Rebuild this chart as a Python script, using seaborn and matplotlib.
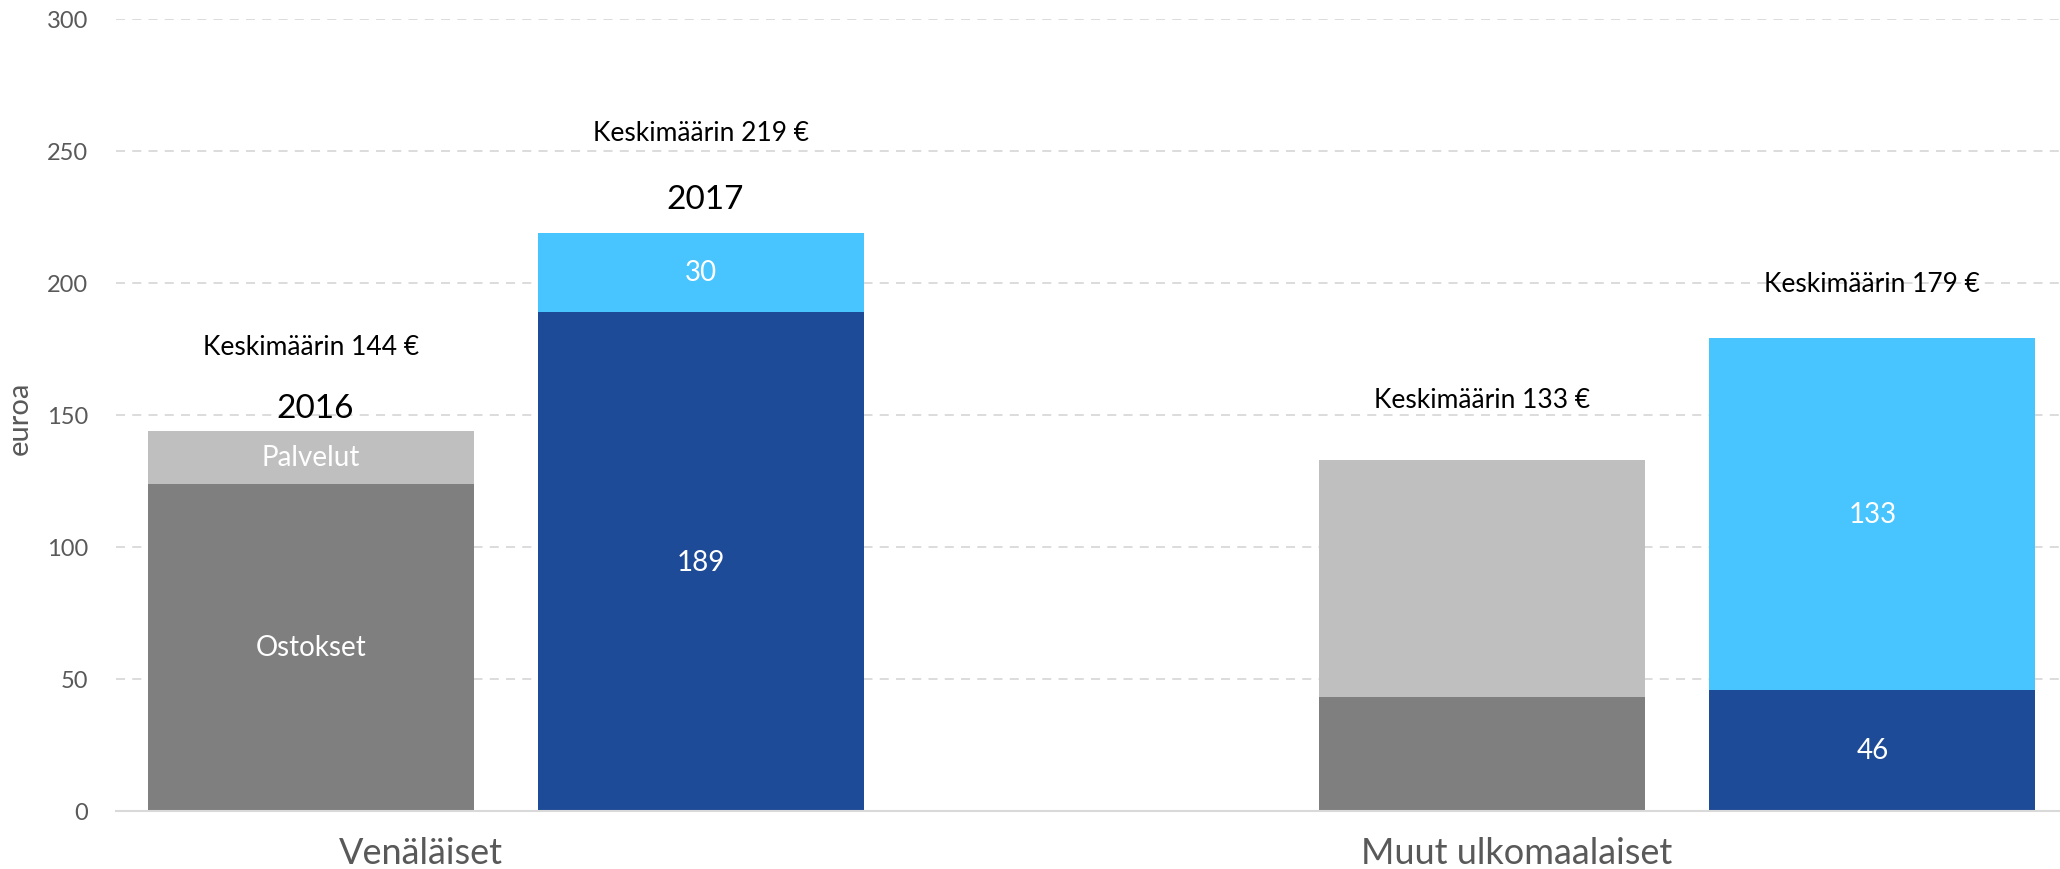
import pandas as pd
import numpy as np
import matplotlib
matplotlib.use("Agg")
import matplotlib.pyplot as plt
import seaborn as sns

sns.set_theme(style="white")
plt.rcParams['font.family'] = ['Lato', 'DejaVu Sans']

# data: order Venäläiset 2016, 2017, Muut 2016, 2017
groups = ["Venäläiset", "Venäläiset", "Muut ulkomaalaiset", "Muut ulkomaalaiset"]
years = ["2016", "2017", "2016", "2017"]
ostokset = [124, 189, 43, 46]
palvelut = [20, 30, 90, 133]
keskimaarin = [144, 219, 133, 179]
inner_bottom = ["Ostokset", "189", "", "46"]
inner_top = ["Palvelut", "30", "", "133"]
year_labels = ["2016", "2017", "", ""]

df = pd.DataFrame({"group": groups, "year": years,
                   "ostokset": ostokset, "palvelut": palvelut})
df["total"] = df["ostokset"] + df["palvelut"]

light = {"2016": "#BFBFBF", "2017": "#48C4FE"}
dark = {"2016": "#7F7F7F", "2017": "#1E4B97"}

fig = plt.figure(figsize=(20.6, 8.7), dpi=100)
ax = fig.add_axes([116 / 2060, 58 / 870, 1 - 116 / 2060, 792 / 870])

sns.barplot(data=df, x="group", y="total", hue="year", palette=light,
            width=0.667, gap=0.166, saturation=1, legend=False, ax=ax,
            linewidth=0)
sns.barplot(data=df, x="group", y="ostokset", hue="year", palette=dark,
            width=0.667, gap=0.166, saturation=1, legend=False, ax=ax,
            linewidth=0)

ax.set_ylim(0, 300)
ax.set_xlim(-0.333, 1.327)
ax.set_yticks(range(0, 301, 50))
ax.yaxis.grid(True, color="#D9D9D9", linestyle=(0, (5, 4)), linewidth=1.3)
ax.set_axisbelow(True)
for s in ["top", "right", "left"]:
    ax.spines[s].set_visible(False)
ax.spines["bottom"].set_color("#D9D9D9")
ax.spines["bottom"].set_linewidth(1.5)
ax.tick_params(axis="y", length=0, labelsize=17, colors="#595959", pad=20)
ax.tick_params(axis="x", length=0, labelsize=26, colors="#595959", pad=18)
ax.set_xticks([-0.073, 0.863])
ax.set_xticklabels(["Venäläiset", "Muut ulkomaalaiset"])
ax.set_xlabel("")
ax.set_ylabel("")
fig.text(20 / 2060, 1 - 418 / 870, "euroa", rotation=90, ha="center",
         va="center", fontsize=21, color="#595959")

# bar centres: dark bars in hue order 2016 then 2017
centers = {}
for cont, yr in zip(ax.containers[2:], ["2016", "2017"]):
    for bar, grp in zip(cont, ["Venäläiset", "Muut ulkomaalaiset"]):
        centers[(grp, yr)] = bar.get_x() + bar.get_width() / 2

avg_y = [176, 257, 156, 200]
year_y = [152.5, 232, 0, 0]
for i in range(4):
    xc = centers[(groups[i], years[i])]
    if inner_bottom[i]:
        ax.text(xc, ostokset[i] / 2, inner_bottom[i], ha="center", va="center",
                color="white", fontsize=20)
    if inner_top[i]:
        ax.text(xc, ostokset[i] + palvelut[i] / 2, inner_top[i], ha="center",
                va="center", color="white", fontsize=20)
    ax.text(xc, avg_y[i], f"Keskimäärin {keskimaarin[i]} €", ha="center",
            va="center", color="black", fontsize=19)
    if year_labels[i]:
        ax.text(xc + 4 / 1171, year_y[i], year_labels[i], ha="center",
                va="center", color="black", fontsize=24)

fig.savefig("out.png", dpi=100)
